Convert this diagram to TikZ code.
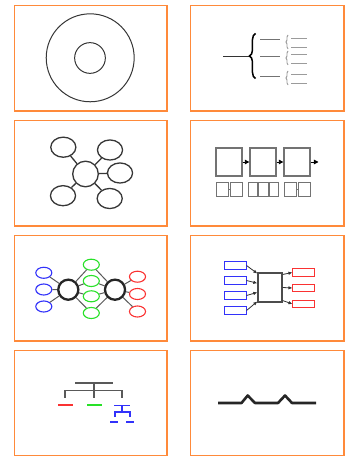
\documentclass[tikz,border=0pt]{standalone}
\usetikzlibrary{shapes.geometric,arrows.meta,decorations.pathreplacing,calc}
\definecolor{frameorange}{RGB}{255,138,58}
\definecolor{inkgray}{RGB}{55,55,55}
\definecolor{midgray}{RGB}{115,115,115}
\definecolor{palegray}{RGB}{155,155,155}
\definecolor{netblue}{RGB}{50,50,250}
\definecolor{netgreen}{RGB}{40,225,40}
\definecolor{netred}{RGB}{250,50,50}
\tikzset{
  panel/.style={draw=frameorange, line width=1.5pt},
  ring/.style={draw=inkgray, line width=1pt},
  stem/.style={draw=black!80, line width=0.9pt},
  bigbrace/.style={decorate, decoration={brace, amplitude=6pt}, draw=black, line width=1.5pt},
  smallbrace/.style={decorate, decoration={brace, amplitude=2pt}, draw=palegray, line width=0.9pt},
  branch/.style={draw=midgray, line width=1pt},
  twig/.style={draw=palegray, line width=0.9pt},
  bubble/.style={ellipse, draw=inkgray, line width=1.3pt, minimum width=25pt, minimum height=20pt, inner sep=0pt},
  core/.style={circle, draw=inkgray, line width=1.3pt, minimum size=25.5pt, inner sep=0pt},
  spoke/.style={draw=inkgray, line width=1.3pt},
  stage/.style={rectangle, draw=midgray, line width=1.2pt, minimum width=26pt, minimum height=28pt, inner sep=0pt},
  part/.style={rectangle, draw=midgray, line width=0.9pt, minimum height=14pt, inner sep=0pt},
  flow/.style={draw=black, line width=0.9pt, -{Triangle[length=4.5pt, width=4.5pt]}},
  hubring/.style={circle, draw=black!85, line width=2.3pt, minimum size=20pt, inner sep=0pt},
  leaf/.style={ellipse, line width=1.1pt, minimum width=16pt, minimum height=11pt, inner sep=0pt},
  link/.style={draw=black!65, line width=1pt},
  tag/.style={rectangle, line width=1pt, minimum width=21pt, minimum height=7.5pt, inner sep=0pt},
  mixer/.style={rectangle, draw=black!70, line width=1.2pt, minimum width=24pt, minimum height=29pt, inner sep=0pt},
  feed/.style={draw=black!80, line width=0.8pt, -{Latex[length=4pt, width=3.5pt]}},
  trunk/.style={draw=black!65, line width=1.5pt},
  bar/.style={line width=1.8pt},
  wave/.style={draw=black!85, line width=2.6pt, line join=round},
}

\begin{document}
\begin{tikzpicture}[x=0.035cm, y=-0.035cm]
\useasboundingbox (0,0) rectangle (351,457);
\draw[panel] (14.3,5.5) rectangle (167,110.8);
\draw[panel] (190.3,5.5) rectangle (344,110.8);
\draw[panel] (14.3,120.5) rectangle (167,225.8);
\draw[panel] (190.3,120.5) rectangle (344,225.8);
\draw[panel] (14.3,235.5) rectangle (167,340.8);
\draw[panel] (190.3,235.5) rectangle (344,340.8);
\draw[panel] (14.3,350.5) rectangle (167,455.6);
\draw[panel] (190.3,350.5) rectangle (344,455.6);

\draw[ring] (90.2,57.8) circle[radius=43.8pt];
\draw[ring] (90,58) circle[radius=15.3pt];

\coordinate (bracetip) at (249,56);
\draw[stem] (223,56) -- (bracetip);
\draw[bigbrace] (255.5,78.5) -- (255.5,33.5);
\draw[branch] (260,40) -- (280,40);
\draw[branch] (260,57) -- (280,57);
\draw[branch] (260,77) -- (280,77);
\draw[smallbrace] (288,49) -- (288,35);
\draw[smallbrace] (288,65) -- (288,51);
\draw[smallbrace] (288,85) -- (288,71);
\draw[twig] (291,38) -- (307,38);
\draw[twig] (291,47) -- (307,47);
\draw[twig] (291,54.5) -- (307,54.5);
\draw[twig] (291,63.5) -- (307,63.5);
\draw[twig] (291,74.5) -- (307,74.5);
\draw[twig] (291,83.5) -- (307,83.5);

\node[core] (hub) at (85.5,174) {};
\node[bubble] (nw) at (63.3,147.2) {};
\node[bubble] (ne) at (110,150) {};
\node[bubble] (ea) at (120,173) {};
\node[bubble] (sw) at (63,195.7) {};
\node[bubble] (se) at (109.7,198.5) {};
\draw[spoke] (hub) -- (nw);
\draw[spoke] (hub) -- (ne);
\draw[spoke] (hub) -- (ea);
\draw[spoke] (hub) -- (sw);
\draw[spoke] (hub) -- (se);

\node[stage] (st1) at (229,162) {};
\node[stage] (st2) at (263,162) {};
\node[stage] (st3) at (297,162) {};
\coordinate (stend) at (318.5,162);
\draw[flow] (st1) -- (st2);
\draw[flow] (st2) -- (st3);
\draw[flow] (st3) -- (stend);
\node[part, minimum width=12pt] (pa1) at (222.2,189) {};
\node[part, minimum width=12pt] (pa2) at (236,189) {};
\node[part, minimum width=9.5pt] (pb1) at (252.8,189) {};
\node[part, minimum width=9.5pt] (pb2) at (263.3,189) {};
\node[part, minimum width=9.5pt] (pb3) at (273.8,189) {};
\node[part, minimum width=12.5pt] (pc1) at (290.5,189) {};
\node[part, minimum width=12pt] (pc2) at (304,189) {};
\draw[part] (pa1) -- (pa2);
\draw[part] (pb1) -- (pb2);
\draw[part] (pb2) -- (pb3);
\draw[part] (pc1) -- (pc2);

\node[hubring] (left) at (68.3,289.7) {};
\node[hubring] (right) at (115,289.7) {};
\node[leaf, draw=netblue] (in1) at (43.8,272.8) {};
\node[leaf, draw=netblue] (in2) at (43.8,289.5) {};
\node[leaf, draw=netblue] (in3) at (43.8,306.5) {};
\node[leaf, draw=netgreen] (mid1) at (91.3,264.7) {};
\node[leaf, draw=netgreen] (mid2) at (91.3,281) {};
\node[leaf, draw=netgreen] (mid3) at (91.3,296.3) {};
\node[leaf, draw=netgreen] (mid4) at (91.3,313) {};
\node[leaf, draw=netred] (out1) at (137.5,276.7) {};
\node[leaf, draw=netred] (out2) at (137.5,294) {};
\node[leaf, draw=netred] (out3) at (137.5,311.5) {};
\draw[link] (in1) -- (left);
\draw[link] (in2) -- (left);
\draw[link] (in3) -- (left);
\draw[link] (left) -- (mid1);
\draw[link] (left) -- (mid2);
\draw[link] (left) -- (mid3);
\draw[link] (left) -- (mid4);
\draw[link] (mid1) -- (right);
\draw[link] (mid2) -- (right);
\draw[link] (mid3) -- (right);
\draw[link] (mid4) -- (right);
\draw[link] (right) -- (out1);
\draw[link] (right) -- (out2);
\draw[link] (right) -- (out3);

\node[mixer] (mix) at (270,287.5) {};
\node[tag, draw=netblue] (src1) at (235.5,265.5) {};
\node[tag, draw=netblue] (src2) at (235.5,280.5) {};
\node[tag, draw=netblue] (src3) at (235.5,295.5) {};
\node[tag, draw=netblue] (src4) at (235.5,310.5) {};
\node[tag, draw=netred] (dst1) at (303.5,272.5) {};
\node[tag, draw=netred] (dst2) at (303.5,288) {};
\node[tag, draw=netred] (dst3) at (303.5,304) {};
\draw[feed] (src1.east) -- ($(mix.north west)!0.04!(mix.south west)$);
\draw[feed] (src2.east) -- ($(mix.north west)!0.36!(mix.south west)$);
\draw[feed] (src3.east) -- ($(mix.north west)!0.66!(mix.south west)$);
\draw[feed] (src4.east) -- ($(mix.north west)!0.96!(mix.south west)$);
\draw[feed] ($(mix.north east)!0.07!(mix.south east)$) -- (dst1.west);
\draw[feed] ($(mix.north east)!0.5!(mix.south east)$) -- (dst2.west);
\draw[feed] ($(mix.north east)!0.93!(mix.south east)$) -- (dst3.west);

\draw[trunk, line width=1.9pt] (75,383) -- (113,383);
\draw[trunk] (94,383) -- (94,397.5);
\draw[trunk] (65,397.5) |- (122,390.5) -- (122,397.5);
\draw[bar, draw=netred] (58,405) -- (73,405);
\draw[bar, draw=netgreen] (87,405) -- (102,405);
\draw[bar, draw=netblue] (114,405.5) -- (130,405.5);
\draw[netblue, line width=1.5pt] (122,405.5) -- (122,412);
\draw[netblue, line width=1.5pt] (115,417) |- (130,412) -- (130,417);
\draw[bar, draw=netblue] (110,422) -- (118,422);
\draw[bar, draw=netblue] (126,422) -- (134,422);

\draw[wave] (218,403) -- (241.5,403) -- (247.7,395.5) -- (255,403) -- (278,403) -- (285,395.5) -- (292,403) -- (316,403);
\end{tikzpicture}
\end{document}
